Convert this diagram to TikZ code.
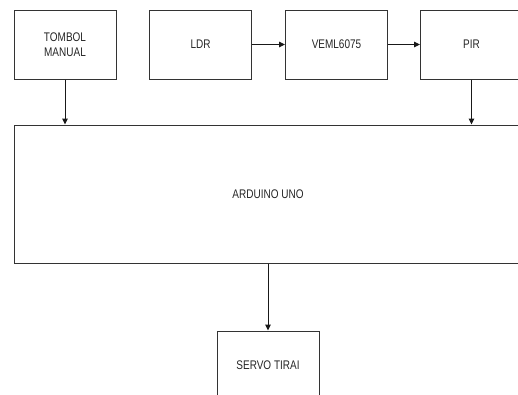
\documentclass[tikz,border=0pt]{standalone}
\usepackage{fontspec}
\usepackage{graphicx}
\setmainfont{Liberation Sans}
\usetikzlibrary{arrows.meta,positioning}

\newcommand{\sempit}[1]{\scalebox{0.8}[1]{#1}}

\begin{document}
\begin{tikzpicture}[x=1pt, y=-1pt, font=\fontsize{12.5}{15}\selectfont,
  blok/.style={draw=black!80, line width=1pt, minimum width=102pt, minimum height=69pt,
    inner sep=0pt, align=center, text=black!85},
  panah/.style={-{Triangle[length=6pt,width=5.5pt]}, line width=1pt, draw=black!90}]
\useasboundingbox (0,0) rectangle (518,394);
\clip (0,0) rectangle (518,394);
% blok masukan
\node[blok] (tombol) at (65,44.5) {\sempit{TOMBOL}\\\sempit{MANUAL}};
\node[blok] (ldr) at (200.5,44.5) {\sempit{LDR}};
\node[blok] (veml) at (336.5,44.5) {\sempit{VEML6075}};
\node[blok] (pir) at (471.5,44.5) {\sempit{PIR}};
% mikrokontroler
\node[blok, minimum width=508pt, minimum height=138pt] (arduino) at (268,194) {\sempit{ARDUINO UNO}};
% keluaran
\node[blok] (servo) at (268,365.5) {\raisebox{-1pt}{\sempit{SERVO TIRAI}}};
% panah
\draw[panah] (ldr) -- (veml);
\draw[panah] (veml) -- (pir);
\draw[panah] (tombol.south) -- (tombol.south |- arduino.north);
\draw[panah] (pir.south) -- (pir.south |- arduino.north);
\draw[panah] (arduino.south -| servo.north) -- (servo.north);
\end{tikzpicture}
\end{document}
